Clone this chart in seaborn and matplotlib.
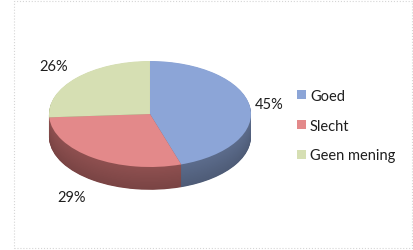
import numpy as np
import seaborn as sns
import matplotlib.pyplot as plt
from matplotlib.patches import Patch, Rectangle
from matplotlib.colors import to_rgb

categories = ["Goed", "Slecht", "Geen mening"]
values = [45, 29, 26]
pct_labels = ["45%", "29%", "26%"]

sns.set_theme(style="white")
plt.rcParams["font.family"] = ["Lato", "DejaVu Sans"]

top_colors = ["#8ca5d7", "#e3898a", "#d6dfb3"]
side_colors = ["#5c6c8c", "#8f5050", "#8f9a6a"]

fig = plt.figure(figsize=(4.14, 2.51), dpi=100)
ax = fig.add_axes([0, 0, 1, 1])

# 3d look: stack of shifted pies for the side, flat pie on top
thickness = 0.43
n_layers = 40
for k in range(n_layers, 0, -1):
    off = thickness * k / n_layers
    shade = 0.85 + 0.15 * (1 - k / n_layers)
    cols = [tuple(np.clip(np.array(to_rgb(c)) * shade, 0, 1)) for c in side_colors]
    ax.pie(values, colors=cols, startangle=90, counterclock=False,
           center=(0, -off), wedgeprops={"linewidth": 0})
ax.pie(values, colors=top_colors, startangle=90, counterclock=False,
       center=(0, 0), wedgeprops={"linewidth": 0})

# percentage labels outside the slices
label_dist = [1.19, 1.38, 1.31]
cum = np.cumsum([0] + values[:-1])
for v, c, lab, d in zip(values, cum, pct_labels, label_dist):
    ang = np.deg2rad(90 - 360 * (c + v / 2) / sum(values))
    x, y = d * np.cos(ang), d * np.sin(ang)
    if y < 0:
        y -= thickness
    ax.text(x, y, lab, ha="center", va="center", fontsize=10.5, color="#1e1e1e")

ax.set_aspect("auto")
ax.set_xlim(-1.485, 2.614)
ax.set_ylim(-2.566, 2.170)
ax.axis("off")

handles = [Patch(facecolor=c, edgecolor="none") for c in top_colors]
fig.legend(handles, categories, loc="upper left", bbox_to_anchor=(0.717, 0.642),
           frameon=False, fontsize=10.5, borderpad=0, borderaxespad=0,
           handlelength=0.6, handleheight=0.6, handletextpad=0.3,
           labelspacing=1.08, labelcolor="#1e1e1e")

fig.patches.append(Rectangle((14 / 414, 2 / 251), 398 / 414, 247 / 251,
                             transform=fig.transFigure, fill=False,
                             edgecolor="#d5d5d5", linestyle=":", linewidth=0.8))

fig.savefig("out.png", dpi=100)
